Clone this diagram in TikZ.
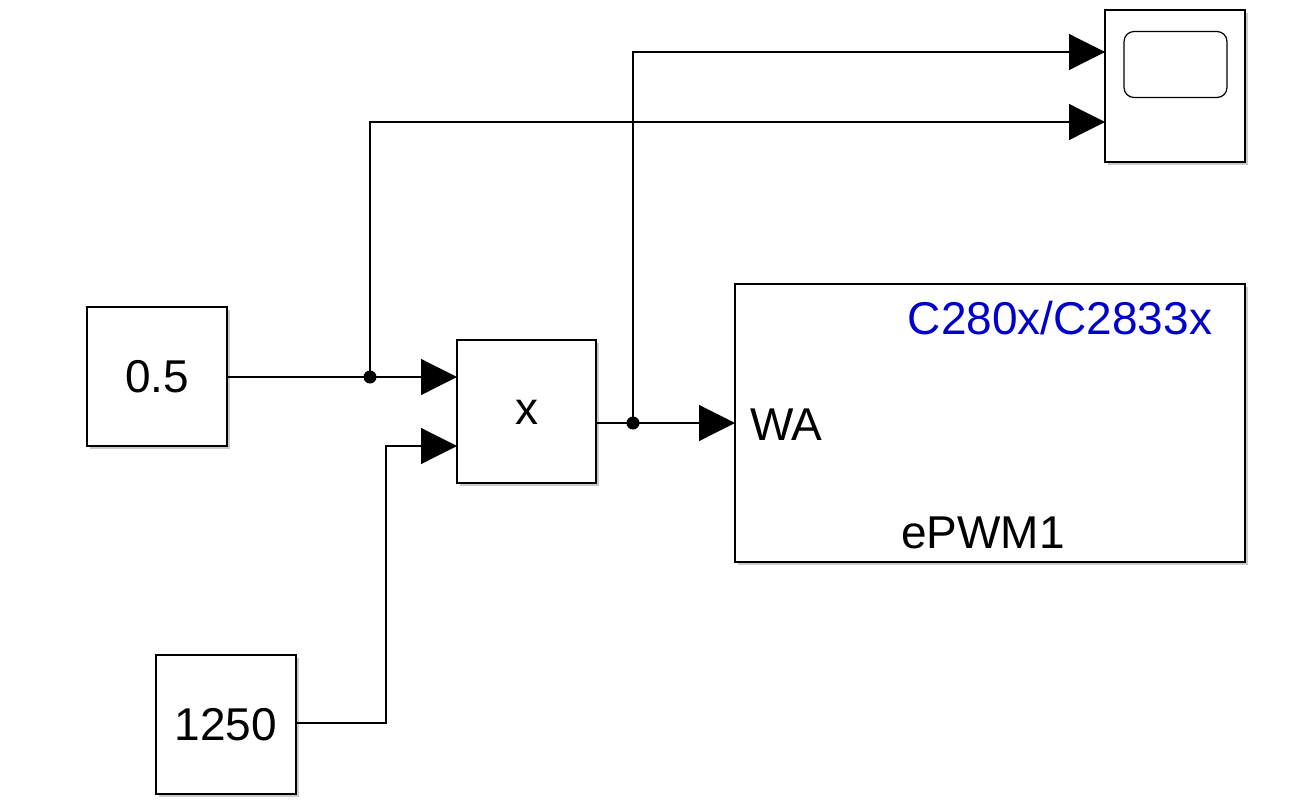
\documentclass[tikz,border=0pt]{standalone}
\usepackage{fontspec}
\setmainfont{Liberation Sans}
\usetikzlibrary{arrows.meta,shadows,calc}
\definecolor{tiblue}{RGB}{0,0,205}
\tikzset{
  blk/.style={draw=black, line width=2.3pt, fill=white, rectangle, inner sep=0pt,
    drop shadow={shadow xshift=2.5pt, shadow yshift=-2.5pt, opacity=0.35, fill=black!60}},
  sig/.style={draw=black, line width=1.2pt},
  sigarrow/.style={sig, -{Triangle[length=36pt,width=36pt]}},
  jdot/.style={circle, fill=black, inner sep=0pt, minimum size=13pt},
  txt/.style={font=\fontsize{46}{50}\selectfont, inner sep=0pt},
}
\begin{document}
\begin{tikzpicture}[x=1pt,y=-1pt]
\useasboundingbox (0,0) rectangle (1315,807);
% blocks
\node[blk, minimum width=140pt, minimum height=139pt] (c05) at (157,376.5) {};
\node[txt] (t05) at (c05.center) {0.5};
\node[blk, minimum width=140pt, minimum height=139pt] (c1250) at (226,724.5) {};
\node[txt] (t1250) at (c1250.center) {1250};
\node[blk, minimum width=139pt, minimum height=143pt] (prod) at (526.5,411.5) {};
\node[txt] (tx) at (527,412) {x};
\node[blk, minimum width=140pt, minimum height=152pt] (scope) at (1175,86) {};
\node[draw=black, line width=1.2pt, rounded corners=10pt, minimum width=103pt, minimum height=66pt, inner sep=0pt] (screen) at (1175.5,64.5) {};
\node[blk, minimum width=510pt, minimum height=278pt] (epwm) at (990,423) {};
\node[txt, text=tiblue] (tchip) at (1060,318) {C280x/C2833x};
\node[txt, anchor=west] (twa) at (750,425) {WA};
\node[txt] (tepwm) at (983,533) {ePWM1};
% ports and turn points
\coordinate (p1) at (457,377);
\coordinate (p2) at (457,446);
\coordinate (pout) at (596,423);
\coordinate (ein) at (735,423);
\coordinate (s1) at (1105,52);
\coordinate (s2) at (1105,122);
\coordinate (k1) at (386,446);
% junctions
\node[jdot] (j1) at (370,377) {};
\node[jdot] (j2) at (633,423) {};
% connectors
\draw[sigarrow] (c05.east |- p1) -- (p1);
\draw[sigarrow] (j1.center) |- (s2);
\draw[sigarrow] (c1250.east |- 0,723) -| (k1) -- (p2);
\draw[sigarrow] (pout) -- (ein);
\draw[sigarrow] (j2.center) |- (s1);
\end{tikzpicture}
\end{document}
